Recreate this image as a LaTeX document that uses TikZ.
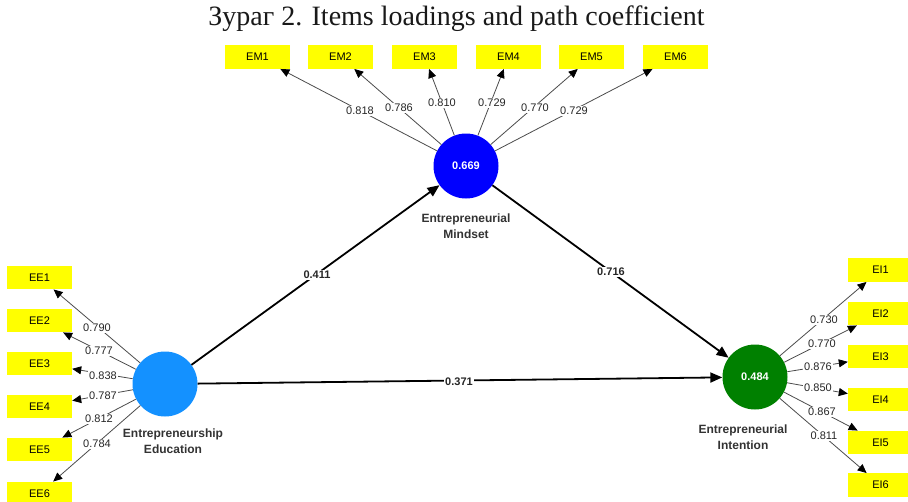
\documentclass[tikz,border=0pt]{standalone}
\usepackage{fontspec}
\setmainfont{Liberation Sans}
\newfontfamily\titlefont{Liberation Serif}
\usetikzlibrary{arrows.meta}
\definecolor{boxyellow}{RGB}{255,255,0}
\definecolor{emblue}{RGB}{0,0,255}
\definecolor{eeblue}{RGB}{20,145,255}
\definecolor{eigreen}{RGB}{0,128,0}
\begin{document}
\begin{tikzpicture}[x=1pt,y=-1pt,
  ind/.style={fill=boxyellow, minimum width=65pt, minimum height=23.5pt, inner sep=0pt, font=\fontsize{11}{12}\selectfont},
  lv/.style={circle, minimum size=65pt, inner sep=0pt, text=white, font=\bfseries\fontsize{11}{12}\selectfont},
  load/.style={draw=black!70, line width=0.8pt, -{Triangle[length=9pt,width=8pt,color=black]}},
  pathc/.style={draw=black, line width=1.8pt, -{Triangle[length=12pt,width=10pt]}},
  lbl/.style={fill=white, inner sep=1pt, font=\fontsize{11}{12}\selectfont, text=black!85},
  plbl/.style={fill=white, inner sep=1pt, font=\bfseries\fontsize{11}{12}\selectfont, text=black!85},
  lvlab/.style={align=center, font=\bfseries\fontsize{12}{16}\selectfont, text=black!80}
]
\clip (0,0) rectangle (908,501);
\fill[white] (0,0) rectangle (908,501);

\node[font=\titlefont\fontsize{28}{30}\selectfont, text=black!90] (title) at (456.5,19) {Зураг 2. Items loadings and path coefficient};

% latent variables
\node[lv, fill=emblue] (EM) at (466,166) {0.669};
\node[lv, fill=eeblue] (EE) at (165,384) {};
\node[lv, fill=eigreen] (EI) at (755,377) {0.484};

\node[lvlab] (EMlab) at (466,226) {Entrepreneurial\\Mindset};
\node[lvlab] (EElab) at (173,441) {Entrepreneurship\\Education};
\node[lvlab] (EIlab) at (743,437) {Entrepreneurial\\Intention};

% indicators EM
\node[ind] (em1) at (257.5,57) {EM1};
\node[ind] (em2) at (340.5,57) {EM2};
\node[ind] (em3) at (424.5,57) {EM3};
\node[ind] (em4) at (508.5,57) {EM4};
\node[ind] (em5) at (591.5,57) {EM5};
\node[ind] (em6) at (675.5,57) {EM6};

% indicators EE
\node[ind] (ee1) at (39.5,277.5) {EE1};
\node[ind] (ee2) at (39.5,320.5) {EE2};
\node[ind] (ee3) at (39.5,363.5) {EE3};
\node[ind] (ee4) at (39.5,406.5) {EE4};
\node[ind] (ee5) at (39.5,449.5) {EE5};
\node[ind] (ee6) at (39.5,493.5) {EE6};

% indicators EI
\node[ind] (ei1) at (880.5,270) {EI1};
\node[ind] (ei2) at (880.5,313.5) {EI2};
\node[ind] (ei3) at (880.5,356.5) {EI3};
\node[ind] (ei4) at (880.5,399.5) {EI4};
\node[ind] (ei5) at (880.5,442.5) {EI5};
\node[ind] (ei6) at (880.5,485) {EI6};

% loadings
\foreach \i in {1,...,6} {
  \draw[load] (EM) -- (em\i);
  \draw[load] (EE) -- (ee\i);
  \draw[load] (EI) -- (ei\i);
}

\node[lbl] (lem1) at (360,111) {0.818};
\node[lbl] (lem2) at (399,108) {0.786};
\node[lbl] (lem3) at (442,103) {0.810};
\node[lbl] (lem4) at (492,103) {0.729};
\node[lbl] (lem5) at (535,108) {0.770};
\node[lbl] (lem6) at (574,111) {0.729};

\node[lbl] (lee1) at (97,328) {0.790};
\node[lbl] (lee2) at (99,351) {0.777};
\node[lbl] (lee3) at (103,376) {0.838};
\node[lbl] (lee4) at (103,396) {0.787};
\node[lbl] (lee5) at (99,419) {0.812};
\node[lbl] (lee6) at (97,444) {0.784};

\node[lbl] (lei1) at (824,320) {0.730};
\node[lbl] (lei2) at (822,344) {0.770};
\node[lbl] (lei3) at (818,367) {0.876};
\node[lbl] (lei4) at (818,388) {0.850};
\node[lbl] (lei5) at (822,412) {0.867};
\node[lbl] (lei6) at (824,436) {0.811};

% structural paths
\draw[pathc] (EE) -- (EM);
\draw[pathc] (EM) -- (EI);
\draw[pathc] (EE) -- (EI);
\node[plbl] (p1) at (317,275) {0.411};
\node[plbl] (p2) at (611,272) {0.716};
\node[plbl] (p3) at (459,382) {0.371};
\end{tikzpicture}
\end{document}
